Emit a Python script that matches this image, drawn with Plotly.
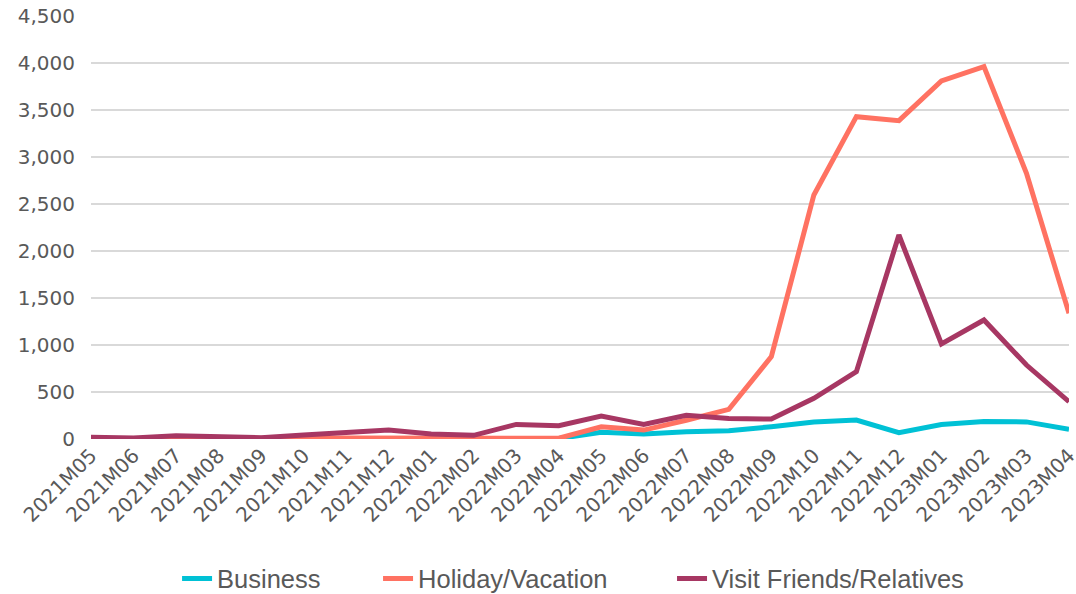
import plotly.graph_objects as go

months = ["2021M05", "2021M06", "2021M07", "2021M08", "2021M09", "2021M10", "2021M11", "2021M12",
          "2022M01", "2022M02", "2022M03", "2022M04", "2022M05", "2022M06", "2022M07", "2022M08",
          "2022M09", "2022M10", "2022M11", "2022M12", "2023M01", "2023M02", "2023M03", "2023M04"]

business = [2, 1, 2, 2, 1, 2, 3, 3, 4, 3, 5, 5, 71, 53, 78, 88, 131, 180, 202, 67, 155, 185, 182, 104]
holiday = [5, 3, 8, 5, 4, 8, 10, 12, 8, 6, 10, 8, 130, 95, 200, 316, 876, 2596, 3429, 3387, 3809, 3961, 2826, 1337]
vfr = [18, 11, 35, 18, 14, 42, 67, 95, 53, 39, 155, 141, 243, 155, 252, 219, 212, 433, 716, 2170, 1011, 1266, 787, 397]

series = [
    ("Business", business, "#00C1D5", "legend", 0.0880),
    ("Holiday/Vacation", holiday, "#FF7262", "legend2", 0.2935),
    ("Visit Friends/Relatives", vfr, "#A73763", "legend3", 0.5941),
]

TICK_FONT = dict(family="DejaVu Sans, Verdana, sans-serif", size=20, color="#595959")

fig = go.Figure()
legends = {}
for name, vals, color, leg, lx in series:
    fig.add_trace(go.Scatter(
        x=months, y=vals, name=name, mode="lines", legend=leg,
        line=dict(color=color, width=5, shape="linear"),
    ))
    legends[leg] = dict(
        orientation="h", x=lx, xanchor="left",
        yref="container", y=0.0253, yanchor="middle",
        font=dict(size=25.5, color="#595959", family="Liberation Sans, Arial"),
        bgcolor="rgba(0,0,0,0)",
    )

fig.update_layout(
    width=1076, height=594,
    margin=dict(l=91, r=7, t=16, b=155),
    plot_bgcolor="white", paper_bgcolor="white",
    font=TICK_FONT,
    showlegend=True,
    xaxis=dict(
        type="category", range=[0, len(months) - 1],
        showgrid=False, showline=False, zeroline=False, automargin=False,
        tickangle=-45, ticks="", tickfont=TICK_FONT,
    ),
    yaxis=dict(
        range=[0, 4500], dtick=500, tickformat=",", automargin=False,
        showgrid=True, gridcolor="#D9D9D9", gridwidth=1.5,
        zeroline=False, showline=False, ticks="",
        ticklabelstandoff=15,
        tickfont=TICK_FONT,
    ),
    **legends,
)

fig.write_html(
    "out.html",
    config={"displayModeBar": False},
    post_script="document.body.style.margin='0';document.body.style.overflow='hidden';"
                "document.documentElement.style.overflow='hidden';",
)
